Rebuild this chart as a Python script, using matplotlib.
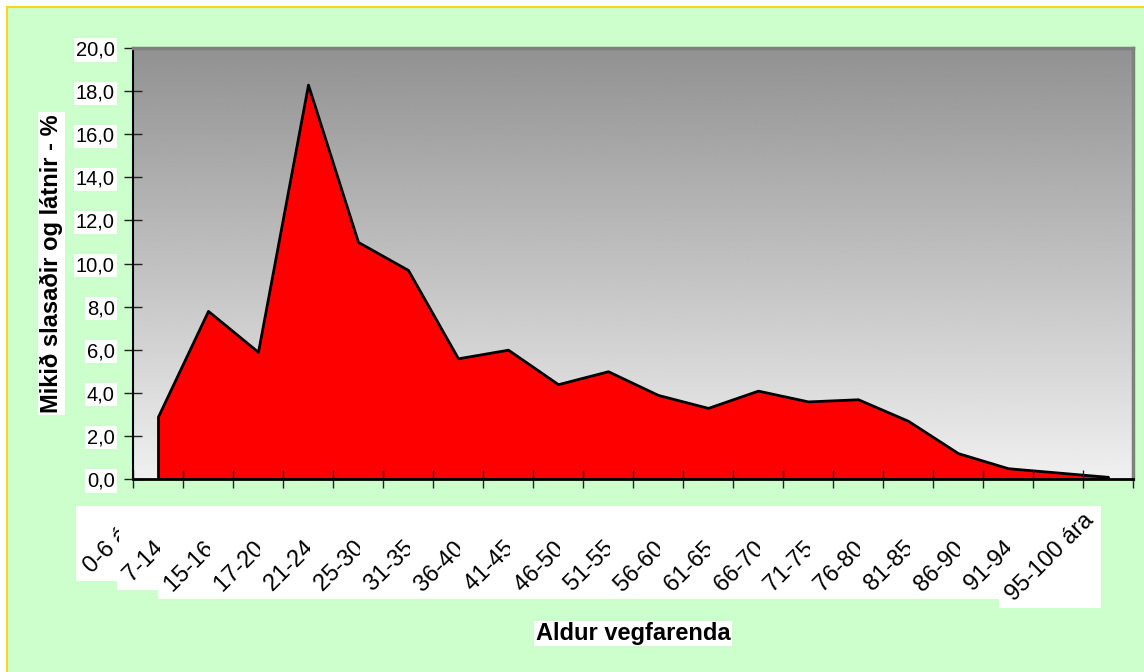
import numpy as np
import matplotlib
matplotlib.use("Agg")
import matplotlib.pyplot as plt
from matplotlib.patches import Rectangle
from matplotlib.transforms import Bbox, IdentityTransform, ScaledTranslation, blended_transform_factory

# ---------------- data ----------------
age_groups = ["0-6 ára", "7-14 ára", "15-16 ára", "17-20 ára", "21-24 ára", "25-30 ára",
              "31-35 ára", "36-40 ára", "41-45 ára", "46-50 ára", "51-55 ára", "56-60 ára",
              "61-65 ára", "66-70 ára", "71-75 ára", "76-80 ára", "81-85 ára", "86-90 ára",
              "91-94 ára", "95-100 ára"]
percent = [2.9, 7.8, 5.9, 18.3, 11.0, 9.7, 5.6, 6.0, 4.4, 5.0,
           3.9, 3.3, 4.1, 3.6, 3.7, 2.7, 1.2, 0.5, 0.3, 0.1]
y_ticks = [0, 2, 4, 6, 8, 10, 12, 14, 16, 18, 20]
y_tick_labels = ["0,0", "2,0", "4,0", "6,0", "8,0", "10,0", "12,0", "14,0", "16,0", "18,0", "20,0"]
x_title = "Aldur vegfarenda"
y_title = "Mikið slasaðir og látnir - %"

FONT = ["Liberation Sans", "DejaVu Sans"]
plt.rcParams["font.family"] = FONT

# ---------------- figure ----------------
W, H, DPI = 1144, 672, 100
fig = plt.figure(figsize=(W / DPI, H / DPI), dpi=DPI, facecolor="white")
fig.add_artist(Rectangle((7 / W, -0.05), 1.1, 1 - 7 / H + 0.05, transform=fig.transFigure,
                         facecolor="#CCFFCC", edgecolor="#FFD320", linewidth=1.5, zorder=-10))

ax = fig.add_axes([133 / W, 1 - 479 / H, 1000 / W, 431 / H])

# gradient plot area
grad = np.linspace(0.94, 0.57, 256).reshape(-1, 1)
ax.imshow(grad, extent=[0, 1, 0, 1], transform=ax.transAxes, origin="lower",
          cmap="gray", vmin=0, vmax=1, aspect="auto", zorder=0, interpolation="bilinear")

n = len(age_groups)
centers = np.arange(n) + 0.5
ax.fill_between(centers, percent, 0, facecolor="#FF0000", edgecolor="black",
                linewidth=2, zorder=1)

ax.set_xlim(0, n)
ax.set_ylim(0, 20)

for side in ("top", "right"):
    ax.spines[side].set_color("#808080")
    ax.spines[side].set_linewidth(2.5)
ax.spines["left"].set_color("black")
ax.spines["left"].set_linewidth(1.5)
ax.spines["bottom"].set_color("black")
ax.spines["bottom"].set_linewidth(2)

ax.set_xticks(np.arange(n + 1))
ax.set_xticklabels([])
ax.set_yticks(y_ticks, labels=y_tick_labels)
ax.tick_params(axis="both", direction="inout", length=13, width=1, color="#222222")
ax.tick_params(axis="y", labelsize=14.5, pad=6.8)
for lbl in ax.get_yticklabels():
    lbl.set_bbox(dict(facecolor="white", edgecolor="none", boxstyle="square,pad=0.1"))

# axis titles
fig.text(51.5 / W, 1 - 263.5 / H, y_title, rotation=90, ha="center", va="center",
         fontsize=17, fontweight="bold",
         bbox=dict(facecolor="white", edgecolor="none", boxstyle="square,pad=0.1"))
fig.text(633 / W, 1 - 633.5 / H, x_title, ha="center", va="center",
         fontsize=17, fontweight="bold",
         bbox=dict(facecolor="white", edgecolor="none", boxstyle="square,pad=0.06"))

# category labels (rotated, clipped like the original)
trans_x = blended_transform_factory(ax.transData, ax.transAxes)
offset = ScaledTranslation(-10 / DPI, -30 / DPI, fig.dpi_scale_trans)
labels = []
for i, lab in enumerate(age_groups):
    t = fig.text(centers[i], 0, lab, transform=trans_x + offset, rotation=45,
                 ha="right", va="top", fontsize=17, zorder=3)
    cx = ax.transData.transform((centers[i], 0))[0]
    if i == 0:
        clipx = cx - 39
    elif i < n - 1:
        clipx = cx - 48
    else:
        clipx = W * 2
    t.set_clip_box(Bbox([[0, 0], [clipx, H]]))
    labels.append((t, clipx))

fig.canvas.draw()
renderer = fig.canvas.get_renderer()
for t, clipx in labels:
    bb = t.get_window_extent(renderer)
    x0, y0 = bb.x0 - 3, bb.y0 - 3
    x1, y1 = min(bb.x1 + 3, clipx), bb.y1 + 3
    fig.add_artist(Rectangle((x0, y0), x1 - x0, y1 - y0, transform=IdentityTransform(),
                             facecolor="white", edgecolor="none", zorder=2))

fig.savefig("out.png", dpi=DPI)
